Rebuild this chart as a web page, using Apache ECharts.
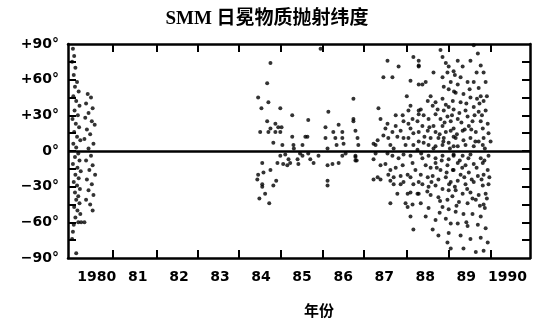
<!DOCTYPE html>
<html>
<head>
<meta charset="utf-8">
<script src="https://cdn.jsdelivr.net/npm/echarts@6/dist/echarts.min.js"></script>
<style>
  html, body { margin: 0; padding: 0; background: #fff; }
  #chart { width: 535px; height: 323px; }
</style>
</head>
<body>
<div id="chart"></div>
<script>
// year labels and tick marks (ticks sit mid-year in the original)
const labelYears = [1980, 1981, 1982, 1983, 1984, 1985, 1986, 1987, 1988, 1989, 1990];
const tickYears = [1980.4, 1981.45, 1982.45, 1983.47, 1984.47, 1985.5, 1986.5, 1987.55, 1988.57, 1989.6];
const latLabels = [-90, -60, -30, 0, 30, 60, 90];
const latTicks = [-75, -60, -45, -30, -15, 0, 15, 30, 45, 60, 75];

// [year, latitude deg]
const cme1980 = [
  [1979.42,86],[1979.45,80],[1979.40,75],[1979.48,70],[1979.44,64],[1979.52,58],[1979.47,54],[1979.56,50],
  [1979.43,46],[1979.50,42],[1979.58,38],[1979.46,34],[1979.54,30],[1979.41,27],[1979.49,23],[1979.57,20],
  [1979.45,16],[1979.52,12],[1979.60,9],[1979.43,6],[1979.50,3],[1979.55,-2],[1979.47,-5],[1979.58,-8],
  [1979.42,-11],[1979.53,-14],[1979.61,-17],[1979.48,-20],[1979.56,-23],[1979.44,-26],[1979.52,-29],[1979.59,-32],
  [1979.47,-35],[1979.55,-38],[1979.50,-41],[1979.58,-44],[1979.45,-47],[1979.53,-50],[1979.60,-53],[1979.48,-56],
  [1979.44,-62],[1979.55,-60],[1979.62,-60],[1979.70,-60],[1979.42,-68],[1979.40,-74],[1979.50,-86],
  [1979.78,48],[1979.86,45],[1979.74,40],[1979.90,36],[1979.80,32],[1979.72,28],[1979.88,25],[1979.95,22],
  [1979.76,18],[1979.84,14],[1979.70,10],[1979.92,6],[1979.80,2],[1979.86,-4],[1979.74,-8],[1979.90,-12],
  [1979.82,-16],[1979.96,-20],[1979.76,-24],[1979.88,-28],[1979.80,-33],[1979.92,-37],[1979.74,-41],[1979.84,-45],
  [1979.90,-50]
];

const cme1984 = [
  [1984.23,74],[1984.15,57],[1983.93,45],[1984.01,36],[1984.18,41],[1984.47,36],[1984.76,30],
  [1984.15,25],[1984.35,23],[1984.23,19],[1984.42,20],[1984.50,20],
  [1983.98,16],[1984.18,16],[1984.35,16],[1984.47,16],[1984.76,12],[1985.08,12],
  [1984.52,5],[1984.79,5],[1985.01,5],[1984.30,7],[1984.80,2],[1984.95,-2],
  [1984.47,-4],[1984.59,-3],[1984.67,-7],[1984.40,-10],[1984.54,-11],[1984.64,-12],[1984.71,-10],[1984.89,-7],
  [1985.01,-4],[1984.91,-11],[1984.03,-10],[1984.23,-16],[1984.06,-18],[1983.93,-20],[1983.91,-24],[1984.03,-28],
  [1984.37,-25],[1984.03,-30],[1984.30,-29],[1984.10,-36],[1983.96,-40],[1984.20,-44],
  [1985.45,86],[1986.25,44],[1985.64,33],[1986.25,27],[1986.25,25],[1985.15,26],[1985.89,22],[1985.57,20],
  [1986.30,17],[1985.76,16],[1985.98,16],[1985.57,11],[1985.81,11],[1985.98,11],[1986.35,11],[1985.13,12],
  [1985.84,5],[1986.01,6],[1986.37,5],[1986.74,6],[1985.62,2],
  [1985.15,-2],[1985.40,-4],[1985.20,-7],[1985.28,-10],[1985.98,-4],[1986.06,-2],[1986.30,-4],[1986.30,-8],
  [1985.89,-10],[1985.74,-11],[1985.62,-12],[1985.62,-25],[1985.62,-29],[1986.74,-24]
];

const cme1987 = [
  [1987.71,79],[1987.08,76],[1987.35,71],[1987.84,72],[1986.98,62],[1987.20,62],[1987.64,59],[1987.84,56],
  [1987.55,46],[1986.86,36],[1987.64,38],[1987.59,34],[1987.84,34],[1987.28,30],[1987.45,30],[1986.91,27],
  [1987.69,27],[1987.81,25],[1987.47,25],[1987.59,23],[1987.08,23],[1987.03,19],[1987.28,21],[1987.20,16],
  [1987.40,17],[1987.64,19],[1987.71,15],[1986.98,13],[1987.10,11],[1987.32,12],[1987.47,11],[1987.59,11],
  [1986.84,9],[1986.79,5],[1987.15,5],[1987.23,2],[1987.52,5],[1987.71,5],[1987.81,1],
  [1986.79,-2],[1986.74,-7],[1987.08,-2],[1987.20,-4],[1987.35,-6],[1987.47,-3],[1987.64,-4],
  [1986.91,-12],[1987.03,-11],[1987.15,-16],[1987.28,-14],[1987.45,-12],[1987.69,-10],[1987.76,-16],
  [1986.84,-22],[1986.91,-24],[1987.10,-20],[1987.23,-22],[1987.40,-21],[1987.57,-20],[1987.64,-22],
  [1987.15,-25],[1987.23,-28],[1987.40,-28],[1987.47,-26],[1987.71,-28],[1987.84,-26],
  [1987.32,-36],[1987.57,-36],[1987.64,-35],[1987.81,-36],
  [1987.15,-44],[1987.52,-44],[1987.57,-47],[1987.69,-45],[1987.64,-55],[1987.71,-66],
  [1986.30,-5],[1986.33,-8]
];

const cme1988 = [
  [1987.84,76],[1987.84,71],[1988.37,85],[1988.42,79],[1988.50,74],[1988.57,71],[1988.20,66],[1988.01,58],
  [1987.93,56],[1988.42,62],[1988.54,66],[1988.62,58],[1988.45,54],[1988.57,52],
  [1988.13,46],[1988.06,42],[1988.25,41],[1988.18,38],[1988.42,44],[1988.50,39],[1988.57,37],[1988.67,42],
  [1988.45,34],[1987.89,35],[1987.84,31],[1987.96,30],[1988.08,27],[1988.25,31],[1988.37,27],[1988.54,29],
  [1988.62,25],[1988.42,21],[1987.93,21],[1988.06,17],[1988.20,21],[1988.25,16],[1987.84,16],
  [1988.50,16],[1988.62,17],[1988.69,12],[1988.45,11],[1988.32,11],[1988.13,11],
  [1987.84,8],[1987.96,7],[1988.08,5],[1988.25,4],[1988.42,5],[1988.57,7],[1988.69,4],
  [1987.93,-6],[1988.08,-4],[1988.25,-6],[1988.42,-4],[1988.57,-7],[1988.69,-4],
  [1988.01,-12],[1988.13,-14],[1988.25,-10],[1988.37,-16],[1988.54,-12],[1988.67,-16],
  [1987.89,-20],[1988.06,-22],[1988.18,-21],[1988.32,-24],[1988.50,-22],[1988.62,-26],
  [1987.93,-28],[1988.08,-30],[1988.25,-29],[1988.42,-32],[1988.57,-33],
  [1987.84,-36],[1988.13,-37],[1988.32,-39],[1988.54,-41],
  [1987.89,-44],[1988.08,-48],[1988.42,-47],[1988.57,-49],
  [1988.01,-55],[1988.25,-58],[1988.50,-57],[1988.62,-61],
  [1988.18,-66],[1988.32,-71],[1988.57,-69],[1988.54,-77],[1988.62,-82]
];

const cme1989 = [
  [1989.18,89],[1989.28,82],[1989.10,76],[1989.35,72],[1989.42,66],[1988.79,76],[1988.91,71],[1988.69,67],
  [1988.86,62],[1989.03,58],[1988.79,56],[1989.18,58],[1989.30,53],[1989.47,58],
  [1988.74,49],[1988.93,48],[1989.10,45],[1989.35,46],[1989.42,42],[1988.86,41],
  [1988.69,35],[1988.98,34],[1989.18,37],[1989.30,33],[1989.47,34],
  [1988.79,27],[1989.03,29],[1989.15,25],[1989.35,25],[1989.52,23],
  [1988.69,19],[1988.91,17],[1989.06,21],[1989.23,16],[1989.40,19],[1989.54,15],
  [1988.74,11],[1988.93,9],[1989.10,11],[1989.30,8],[1989.42,11],[1989.59,8],
  [1988.79,4],[1988.98,5],[1989.18,4],[1989.40,5],
  [1988.69,-3],[1988.91,-4],[1989.10,-3],[1989.35,-6],[1989.54,-4],
  [1988.79,-10],[1988.98,-12],[1989.18,-11],[1989.40,-10],[1989.52,-16],
  [1988.69,-16],[1988.86,-20],[1989.06,-18],[1989.28,-21],[1989.42,-20],
  [1988.79,-25],[1988.98,-28],[1989.18,-26],[1989.40,-29],[1989.54,-28],
  [1988.74,-33],[1988.91,-36],[1989.10,-35],[1989.30,-37],[1989.47,-36],
  [1988.82,-43],[1989.03,-44],[1989.23,-41],[1989.42,-45],
  [1988.74,-51],[1988.93,-53],[1989.15,-53],[1989.35,-55],
  [1988.79,-61],[1989.03,-63],[1989.28,-62],[1989.47,-65],
  [1988.86,-71],[1989.10,-74],[1989.35,-73],[1989.52,-77],
  [1988.93,-82],[1989.23,-85],[1989.42,-84]
];

// extra points in the dense blobs of 1988-89
const cmeDense = [
  [1988.30,35],[1988.35,14],[1988.40,-8],[1988.47,24],[1988.52,-18],[1988.60,2],[1988.65,30],[1988.72,-30],
  [1988.77,14],[1988.84,-8],[1988.88,24],[1988.95,-22],[1989.00,40],[1989.05,-6],[1989.12,18],[1989.15,-40],
  [1989.20,30],[1989.25,-14],[1989.32,40],[1989.37,-24],[1989.45,2],[1989.50,-40],[1988.28,-14],[1988.36,-42],
  [1988.44,8],[1988.58,-28],[1988.66,-38],[1988.70,50],[1988.76,-46],[1988.83,32],[1988.90,-14],[1988.96,18],
  [1989.02,-32],[1989.08,52],[1989.13,-24],[1989.22,8],[1989.26,44],[1989.33,-46],[1989.38,30],[1989.44,-8],
  [1989.50,46],[1989.56,-22],[1988.20,2],[1988.15,-26],[1988.10,20],[1988.05,-34],[1987.98,12],[1987.90,-2],
  [1988.35,-52],[1988.72,64],[1989.00,-60],[1989.25,66],[1989.45,-48]
];

const chart = echarts.init(document.getElementById('chart'));

function labelFont() {
    return { color: '#000', fontFamily: 'DejaVu Sans', fontWeight: 'bold', fontSize: 14 };
}
function frameLine(onZero) {
    const l = { show: true, lineStyle: { color: '#000', width: 2.5 } };
    if (onZero === false) l.onZero = false;
    return l;
}
function ticks(values) {
    return { show: true, inside: true, length: 8, customValues: values, lineStyle: { color: '#000', width: 2 } };
}

function dots(data) {
    return {
        type: 'scatter',
        data: data,
        symbolSize: 4,
        itemStyle: { color: '#000' }
    };
}

const series = [cme1980, cme1984, cme1987, cme1988, cme1989, cmeDense].map(dots);
// heavy equator line
series.push({
    type: 'line',
    data: [],
    markLine: {
        silent: true,
        symbol: 'none',
        label: { show: false },
        lineStyle: { color: '#000', width: 2.5, type: 'solid' },
        data: [{ yAxis: 0 }]
    }
});

chart.setOption({
    animation: false,
    backgroundColor: '#fff',
    title: {
        text: 'SMM 日冕物质抛射纬度',
        left: 262,
        textAlign: 'center',
        top: 5,
        textStyle: {
            color: '#000',
            fontFamily: '"Liberation Serif", "Noto Sans CJK SC", serif',
            fontWeight: 'bold',
            fontSize: 19
        }
    },
    grid: { left: 68, right: 5, top: 44, bottom: 60 },
    xAxis: [
        {
            type: 'value',
            position: 'bottom',
            min: 1979.3,
            max: 1990.55,
            axisLine: frameLine(false),
            axisTick: ticks(tickYears),
            axisLabel: Object.assign({
                customValues: labelYears,
                margin: 12,
                formatter: (v) => (v === 1980 || v === 1990) ? String(v) : String(v).slice(2)
            }, labelFont()),
            splitLine: { show: false },
            name: '年份',
            nameLocation: 'middle',
            nameGap: 45,
            nameTextStyle: {
                color: '#000',
                fontFamily: 'Noto Sans CJK SC',
                fontWeight: 'bold',
                fontSize: 15,
                padding: [0, 0, 0, 40]
            }
        },
        {
            type: 'value',
            position: 'top',
            min: 1979.3,
            max: 1990.55,
            axisLine: frameLine(false),
            axisTick: ticks(tickYears),
            axisLabel: { show: false },
            splitLine: { show: false }
        }
    ],
    yAxis: [
        {
            type: 'value',
            position: 'left',
            min: -90,
            max: 90,
            interval: 15,
            axisLine: frameLine(),
            axisTick: ticks(latTicks),
            axisLabel: Object.assign({
                customValues: latLabels,
                margin: 9,
                formatter: (v) => v > 0 ? '+' + v + '°' : (v < 0 ? '−' + (-v) + '°' : '0°')
            }, labelFont()),
            splitLine: { show: false }
        },
        {
            type: 'value',
            position: 'right',
            min: -90,
            max: 90,
            interval: 15,
            axisLine: frameLine(),
            axisTick: ticks(latTicks),
            axisLabel: { show: false },
            splitLine: { show: false }
        }
    ],
    series: series
});
</script>
</body>
</html>
